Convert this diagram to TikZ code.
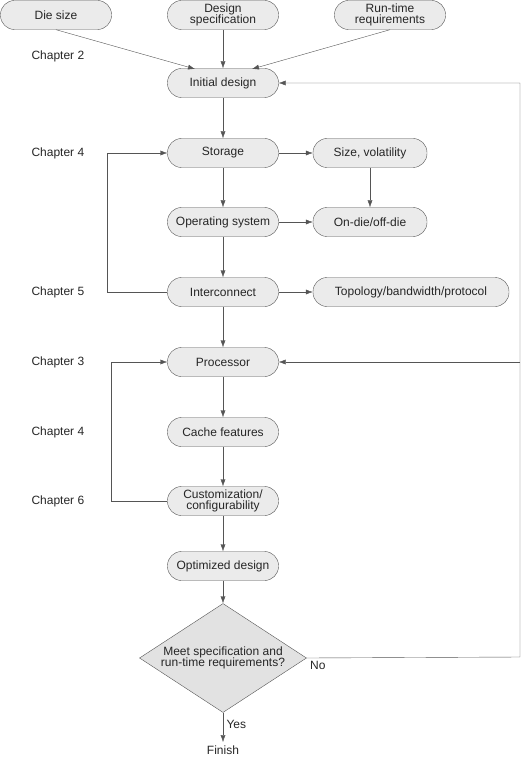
\documentclass[tikz,border=0pt]{standalone}
\usepackage{fontspec}
\setmainfont{Liberation Sans}
\usepackage{xcolor}
\usetikzlibrary{shapes.geometric,arrows.meta,positioning}
\definecolor{boxfill}{HTML}{EBEBEB}
\definecolor{diafill}{HTML}{E2E2E2}
\definecolor{edge}{HTML}{555555}

\begin{document}
\begin{tikzpicture}[
  x=1pt, y=-1pt,
  every node/.style={font=\fontsize{12}{13.5}\selectfont, text=black!85},
  stage/.style={draw=edge, fill=boxfill, rounded corners=14pt, minimum width=111pt, minimum height=29pt, align=center, inner sep=1pt},
  test/.style={diamond, draw=edge, fill=diafill, minimum width=167pt, minimum height=109pt, aspect=1.53, inner sep=0pt, align=center},
  chap/.style={anchor=west},
  arr/.style={-{Latex[length=7pt,width=5pt]}, draw=edge},
  line/.style={draw=edge}
]
\useasboundingbox (0,0) rectangle (523,759);

% Inputs
\node[stage] (die) at (56,15) {Die size};
\node[stage] (spec) at (223,15) {Design\\[-2pt]specification};
\node[stage] (runtime) at (390,15) {Run-time\\[-2pt]requirements};

% Main flow
\node[stage] (init) at (223,83) {Initial design};
\node[stage] (stor) at (223,153) {Storage};
\node[stage, minimum width=114pt] (vol) at (370,153) {Size, volatility};
\node[stage] (os) at (223,222) {Operating system};
\node[stage, minimum width=114pt] (ondie) at (370,222) {On-die/off-die};
\node[stage] (inter) at (223,292) {Interconnect};
\node[stage, minimum width=196pt] (topo) at (411,292) {Topology/bandwidth/protocol};
\node[stage] (proc) at (223,362) {Processor};
\node[stage] (cache) at (223,432) {Cache features};
\node[stage] (cust) at (223,501) {Customization/\\[-2pt]configurability};
\node[stage] (opt) at (223,566) {Optimized design};
\node[test] (meet) at (223,658) {Meet specification and\\[-2pt]run-time requirements?};
\node (fin) at (223,750) {Finish};

% Chapter labels
\node[chap] (ch2) at (28,56) {Chapter 2};
\node[chap] (ch4a) at (28,153) {Chapter 4};
\node[chap] (ch5) at (28,292) {Chapter 5};
\node[chap] (ch3) at (28,362) {Chapter 3};
\node[chap] (ch4b) at (28,432) {Chapter 4};
\node[chap] (ch6) at (28,501) {Chapter 6};

% Arrows
\draw[arr] (die.south) -- (195,69);
\draw[arr] (spec) -- (init);
\draw[arr] (runtime.south) -- (252,69);
\draw[arr] (init) -- (stor);
\draw[arr] (stor) -- (os);
\draw[arr] (os) -- (inter);
\draw[arr] (inter) -- (proc);
\draw[arr] (proc) -- (cache);
\draw[arr] (cache) -- (cust);
\draw[arr] (cust) -- (opt);
\draw[arr] (opt) -- (meet);
\draw[arr] (stor) -- (vol);
\draw[arr] (vol) -- (ondie);
\draw[arr] (os) -- (ondie);
\draw[arr] (inter) -- (topo);

% Feedback loops
\draw[arr] (inter.west) -- ++(-60,0) |- (stor.west);
\draw[arr] (cust.west) -- ++(-56,0) |- (proc.west);
\coordinate (rc) at (520,657);
\draw[arr] (meet.east) -- (rc) |- (init.east);
\draw[arr] (rc |- proc.east) -- (proc.east);

% Decision labels
\draw[arr] (meet.south) -- node[right, pos=0.4] {Yes} (fin.north);
\node[anchor=north west] (no) at (meet.east) {No};

\end{tikzpicture}
\end{document}
